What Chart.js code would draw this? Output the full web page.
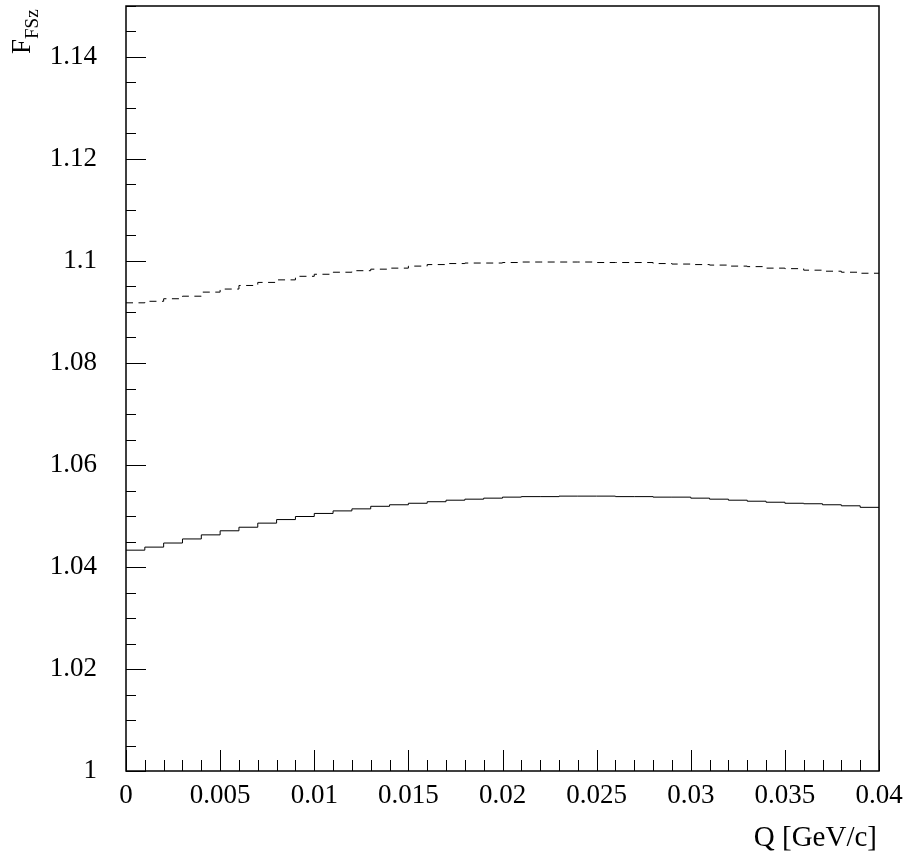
<!DOCTYPE html>
<html>
<head>
<meta charset="utf-8">
<script src="https://cdn.jsdelivr.net/npm/chart.js@4.4.0/dist/chart.umd.min.js"></script>
<style>
  html, body { margin: 0; padding: 0; background: #fff; }
  canvas { display: block; }
</style>
</head>
<body>
<canvas id="fszChart" width="909" height="853"></canvas>
<script>
// Histogram binning in Q [GeV/c]
const qMin = 0;
const qMax = 0.04;
const nBins = 40;

// Bin contents, solid histogram
const fszSolid = [
  1.0433, 1.0439, 1.0447, 1.0455, 1.0463, 1.0471, 1.0478, 1.0486, 1.0493, 1.0499,
  1.0505, 1.0510, 1.0514, 1.0519, 1.0522, 1.0525, 1.0528, 1.0531, 1.0533, 1.0535,
  1.0537, 1.0538, 1.0538, 1.0539, 1.0539, 1.0539, 1.0538, 1.0538, 1.0537, 1.0537,
  1.0535, 1.0533, 1.0531, 1.0529, 1.0527, 1.0525, 1.0524, 1.0522, 1.0520, 1.0517
];

// Bin contents, dashed histogram
const fszDashed = [
  1.0918, 1.0921, 1.0926, 1.0931, 1.0939, 1.0945, 1.0952, 1.0958, 1.0963, 1.0970,
  1.0974, 1.0978, 1.0981, 1.0984, 1.0986, 1.0990, 1.0993, 1.0995, 1.0996, 1.0996,
  1.0997, 1.0998, 1.0998, 1.0998, 1.0998, 1.0997, 1.0997, 1.0997, 1.0995, 1.0994,
  1.0993, 1.0992, 1.0990, 1.0989, 1.0986, 1.0985, 1.0982, 1.0980, 1.0978, 1.0976
];

// Axis ranges and divisions
const yMin = 1;
const yMax = 1.15;
const yMajorStep = 0.02;
const yMinorStep = 0.005;
const xMajorStep = 0.005;
const xMinorStep = 0.001;

const xTitle = 'Q [GeV/c]';
const yTitleMain = 'F';
const yTitleSub = 'FSz';

const FONT = "'Liberation Serif', 'Times New Roman', serif";

// turn bin contents into step points (low edges + closing point at qMax)
function toSteps(values) {
  const w = (qMax - qMin) / nBins;
  const pts = values.map((v, i) => ({ x: qMin + i * w, y: v }));
  pts.push({ x: qMax, y: values[values.length - 1] });
  return pts;
}

function fmt(v, digits) {
  return String(parseFloat(v.toFixed(digits)));
}

// fixed scale box, no extra label padding
function fixBox(size, horizontal) {
  return s => {
    if (horizontal) s.height = size; else s.width = size;
    s.paddingTop = 0;
    s.paddingBottom = 0;
    s.paddingLeft = 0;
    s.paddingRight = 0;
  };
}

// frame, inward ticks and axis titles
const rootFrame = {
  id: 'rootFrame',
  afterDraw(chart) {
    const { ctx, chartArea: a, scales } = chart;
    const xs = scales.x, ys = scales.y;
    ctx.save();
    ctx.strokeStyle = '#000';
    ctx.lineWidth = 1;

    ctx.beginPath();
    const nx = Math.round((qMax - qMin) / xMinorStep);
    for (let k = 0; k <= nx; k++) {
      const px = Math.round(xs.getPixelForValue(qMin + k * xMinorStep)) + 0.5;
      const len = (k % Math.round(xMajorStep / xMinorStep) === 0) ? 21 : 11;
      ctx.moveTo(px, a.bottom);
      ctx.lineTo(px, a.bottom - len);
    }
    const ny = Math.round((yMax - yMin) / yMinorStep);
    for (let k = 0; k <= ny; k++) {
      const py = Math.round(ys.getPixelForValue(yMin + k * yMinorStep)) + 0.5;
      const len = (k % Math.round(yMajorStep / yMinorStep) === 0) ? 20 : 10;
      ctx.moveTo(a.left, py);
      ctx.lineTo(a.left + len, py);
    }
    ctx.stroke();

    ctx.lineWidth = 1.5;
    ctx.strokeRect(a.left, a.top, a.right - a.left, a.bottom - a.top);

    // x title, right aligned under the axis
    ctx.fillStyle = '#000';
    ctx.font = '29px ' + FONT;
    ctx.textAlign = 'right';
    ctx.textBaseline = 'alphabetic';
    ctx.fillText(xTitle, a.right - 2, 846);

    // y title, rotated, ending at the top of the frame
    ctx.translate(30, 54);
    ctx.rotate(-Math.PI / 2);
    ctx.textAlign = 'left';
    ctx.font = '27px ' + FONT;
    ctx.fillText(yTitleMain, 0, 0);
    const wMain = ctx.measureText(yTitleMain).width;
    ctx.font = '19px ' + FONT;
    ctx.fillText(yTitleSub, wMain, 8);
    ctx.restore();
  }
};

new Chart(document.getElementById('fszChart'), {
  type: 'line',
  data: {
    datasets: [
      {
        label: 'solid',
        data: toSteps(fszSolid),
        stepped: true,
        borderColor: '#000',
        borderWidth: 1,
        pointRadius: 0,
        fill: false
      },
      {
        label: 'dashed',
        data: toSteps(fszDashed),
        stepped: true,
        borderColor: '#000',
        borderWidth: 1,
        borderDash: [7, 5.5],
        pointRadius: 0,
        fill: false
      }
    ]
  },
  options: {
    responsive: false,
    animation: false,
    layout: { padding: { left: 0, right: 30, top: 6, bottom: 0 } },
    plugins: {
      legend: { display: false },
      tooltip: { enabled: false }
    },
    scales: {
      x: {
        type: 'linear',
        min: qMin,
        max: qMax,
        grid: { display: false, drawTicks: false },
        border: { display: false },
        afterFit: fixBox(82, true),
        ticks: {
          stepSize: xMajorStep,
          includeBounds: false,
          maxRotation: 0,
          autoSkip: false,
          padding: 9,
          color: '#000',
          font: { family: FONT, size: 27 },
          callback: v => fmt(v, 3)
        }
      },
      y: {
        type: 'linear',
        min: yMin,
        max: yMax,
        grid: { display: false, drawTicks: false },
        border: { display: false },
        afterFit: fixBox(126, false),
        ticks: {
          stepSize: yMajorStep,
          includeBounds: false,
          autoSkip: false,
          padding: 29,
          color: '#000',
          font: { family: FONT, size: 27 },
          callback: v => fmt(v, 2)
        }
      }
    }
  },
  plugins: [rootFrame]
});
</script>
</body>
</html>
